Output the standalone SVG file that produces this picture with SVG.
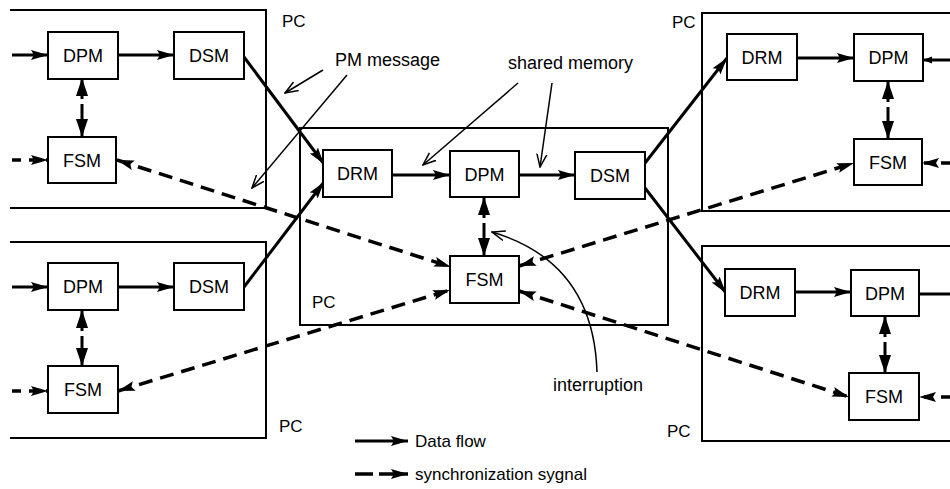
<svg xmlns="http://www.w3.org/2000/svg" width="950" height="489" viewBox="0 0 950 489">
<defs>
<marker id="ah" markerUnits="userSpaceOnUse" markerWidth="18" markerHeight="12" refX="17" refY="6" orient="auto-start-reverse">
<path d="M0,1 L17,6 L0,11 L3,6 z" fill="#000"/>
</marker>
<marker id="av" markerUnits="userSpaceOnUse" markerWidth="19" markerHeight="13" refX="18" refY="6.5" orient="auto">
<path d="M0,0.5 L18,6.5 L0,12.5 z" fill="#000"/>
</marker>
<marker id="open" markerUnits="userSpaceOnUse" markerWidth="14" markerHeight="12" refX="13" refY="6" orient="auto">
<path d="M0,1 L13,6 L0,11" fill="none" stroke="#000" stroke-width="1.5"/>
</marker>
<marker id="sm" markerUnits="userSpaceOnUse" markerWidth="10" markerHeight="8" refX="9" refY="4" orient="auto">
<path d="M0,0.5 L9,4 L0,7.5 z" fill="#000"/>
</marker>
</defs>
<style>
.pc{fill:none;stroke:#000;stroke-width:2}
.box{fill:#fff;stroke:#000;stroke-width:2}
.t{font-family:"Liberation Sans",Arial,sans-serif;font-size:18px;fill:#000}
.c{text-anchor:middle}
.lbl{font-family:"Liberation Sans",Arial,sans-serif;font-size:17px;fill:#000}
.d{fill:none;stroke:#000;stroke-width:3;marker-end:url(#ah)}
.s{fill:none;stroke:#000;stroke-width:3.5;stroke-dasharray:14 8;marker-start:url(#ah);marker-end:url(#ah)}
.si{fill:none;stroke:#000;stroke-width:3.5;stroke-dasharray:9 8;marker-end:url(#ah)}
.v{fill:none;stroke:#000;stroke-width:3;marker-end:url(#av)}
.a{fill:none;stroke:#000;stroke-width:1.5;marker-end:url(#open)}
</style>
<rect width="950" height="489" fill="#fff"/>

<!-- PC frames -->
<g id="pc-top-left">
<path class="pc" d="M10,10 L266,10 L266,208 L10,208"/>
<text class="lbl" x="282" y="27">PC</text>
</g>
<g id="pc-bottom-left">
<path class="pc" d="M10,242 L266,242 L266,438 L10,438"/>
<text class="lbl" x="279" y="432">PC</text>
</g>
<g id="pc-middle">
<rect class="pc" x="300" y="128" width="368" height="197"/>
<text class="lbl" x="312" y="308">PC</text>
</g>
<g id="pc-top-right">
<path class="pc" d="M950,13 L702,13 L702,211 L950,211"/>
<text class="lbl" x="672" y="28">PC</text>
</g>
<g id="pc-bottom-right">
<path class="pc" d="M950,246 L702,246 L702,441 L950,441"/>
<text class="lbl" x="667" y="437">PC</text>
</g>

<!-- connectors -->
<g id="connectors">
<!-- data flow -->
<path class="d" d="M12,55 L48,55"/>
<path class="d" d="M118,55 L174,55"/>
<path class="d" d="M244,57 L324,164"/>
<path class="d" d="M12,287 L48,287"/>
<path class="d" d="M118,287 L174,287"/>
<path class="d" d="M244,287 L324,182"/>
<path class="d" d="M392,175 L450,175"/>
<path class="d" d="M519,175 L575,175"/>
<path class="d" d="M645,163 L727,58"/>
<path class="d" d="M645,188 L726,293"/>
<path class="d" d="M797,58 L854,58"/>
<path d="M950,60 L923,60" fill="none" stroke="#000" stroke-width="3" marker-end="url(#sm)"/>
<path class="d" d="M795,292 L851,292"/>
<path d="M919,294 L950,294" fill="none" stroke="#000" stroke-width="3"/>

<!-- DPM <-> FSM -->
<path class="v" d="M82,99 L82,78"/><path class="v" d="M82,104 L82,137"/>
<path class="v" d="M82,331 L82,310"/><path class="v" d="M82,336 L82,366"/>
<path class="v" d="M484,218 L484,197"/><path class="v" d="M484,223 L484,256"/>
<path class="v" d="M888,102 L888,81"/><path class="v" d="M888,107 L888,139"/>
<path class="v" d="M885,337 L885,316"/><path class="v" d="M885,342 L885,373"/>

<!-- synchronization -->
<path class="si" d="M12,160 L48,160"/>
<path class="si" d="M12,391 L48,391"/>
<path class="si" d="M950,163 L922,163"/>
<path class="si" d="M950,397 L919,397"/>
<path class="s" d="M117,160 L451,267"/>
<path class="s" d="M118,391 L450,290"/>
<path class="s" d="M519,266 L854,163"/>
<path class="s" d="M519,291 L849,397"/>

<!-- annotation arrows -->
<path class="a" d="M323,70 L285,93"/>
<path class="a" d="M347,75 L252,188"/>
<path class="a" d="M518,83 L423,165"/>
<path class="a" d="M552,83 L540,167"/>
<path class="a" d="M597,372 C595,310 570,255 492,232"/>

<!-- legend -->
<path class="d" d="M355,441 L408,441"/>
<path d="M355,474 L408,474" fill="none" stroke="#000" stroke-width="3.5" stroke-dasharray="18 6 60" marker-end="url(#ah)"/>
</g>

<!-- nodes -->
<g id="tl-dpm"><rect class="box" x="48" y="32" width="70" height="47"/><text class="t c" x="83" y="62">DPM</text></g>
<g id="tl-dsm"><rect class="box" x="174" y="32" width="70" height="47"/><text class="t c" x="209" y="62">DSM</text></g>
<g id="tl-fsm"><rect class="box" x="48" y="137" width="68" height="46"/><text class="t c" x="82" y="167">FSM</text></g>

<g id="bl-dpm"><rect class="box" x="48" y="263" width="70" height="47"/><text class="t c" x="83" y="293">DPM</text></g>
<g id="bl-dsm"><rect class="box" x="174" y="263" width="70" height="47"/><text class="t c" x="209" y="293">DSM</text></g>
<g id="bl-fsm"><rect class="box" x="48" y="366" width="70" height="47"/><text class="t c" x="83" y="396">FSM</text></g>

<g id="m-drm"><rect class="box" x="323" y="150" width="69" height="47"/><text class="t c" x="357.5" y="180">DRM</text></g>
<g id="m-dpm"><rect class="box" x="450" y="151" width="69" height="46"/><text class="t c" x="484.5" y="181">DPM</text></g>
<g id="m-dsm"><rect class="box" x="575" y="152" width="70" height="47"/><text class="t c" x="610" y="182">DSM</text></g>
<g id="m-fsm"><rect class="box" x="450" y="256" width="69" height="47"/><text class="t c" x="484.5" y="286">FSM</text></g>

<g id="tr-drm"><rect class="box" x="727" y="34" width="70" height="46"/><text class="t c" x="762" y="64">DRM</text></g>
<g id="tr-dpm"><rect class="box" x="854" y="34" width="69" height="47"/><text class="t c" x="888.5" y="64">DPM</text></g>
<g id="tr-fsm"><rect class="box" x="854" y="139" width="68" height="46"/><text class="t c" x="888" y="169">FSM</text></g>

<g id="br-drm"><rect class="box" x="725" y="269" width="70" height="47"/><text class="t c" x="760" y="299">DRM</text></g>
<g id="br-dpm"><rect class="box" x="851" y="270" width="68" height="46"/><text class="t c" x="885" y="300">DPM</text></g>
<g id="br-fsm"><rect class="box" x="849" y="373" width="70" height="47"/><text class="t c" x="884" y="403">FSM</text></g>

<!-- labels -->
<g id="labels">
<text class="t" x="335" y="66">PM message</text>
<text class="t" x="508" y="69">shared memory</text>
<text class="t" x="553" y="391">interruption</text>
<text class="lbl" x="415" y="447">Data flow</text>
<text class="lbl" x="415" y="480">synchronization sygnal</text>
</g>
</svg>
